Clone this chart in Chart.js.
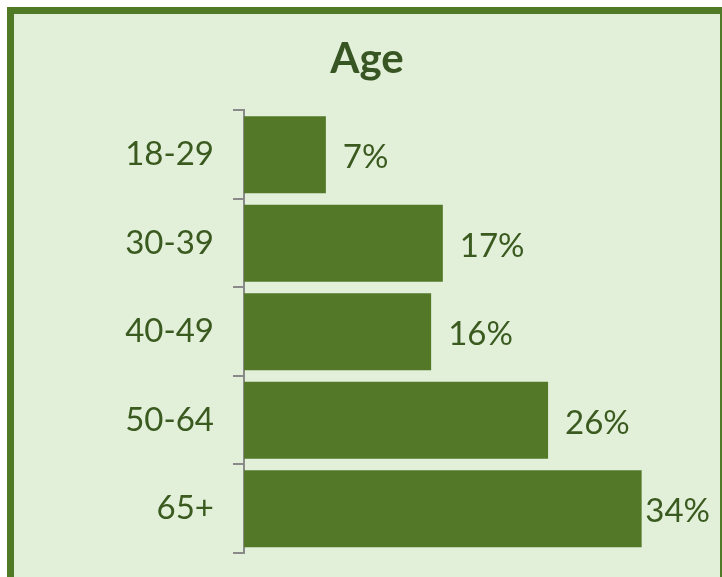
<!DOCTYPE html>
<html>
<head>
<meta charset="utf-8">
<script src="https://cdn.jsdelivr.net/npm/chart.js@4"></script>
<style>
  html, body { margin: 0; padding: 0; background: #ffffff; overflow: hidden; }
  #frame {
    position: absolute; left: 7px; top: 7px;
    width: 706px; height: 600px;
    border: 7px solid #517a27;
    background: #e2efd9;
  }
  #wrap { position: absolute; left: 0; top: 0; width: 706px; height: 563px; }
</style>
</head>
<body>
<div id="frame"><div id="wrap"><canvas id="chart"></canvas></div></div>
<script>
var ageGroups = ["18-29", "30-39", "40-49", "50-64", "65+"];
var shares = [7, 17, 16, 26, 34];

var textColor = "#3a5a1f";
var barColor = "#527828";
var axisGray = "#8a8a8a";
var fontName = "Lato";

// draws the percent next to each bar, pulled in when it would run off the plot
var valueLabels = {
  id: "valueLabels",
  afterDatasetsDraw: function(chart) {
    var ctx = chart.ctx;
    var meta = chart.getDatasetMeta(0);
    ctx.save();
    ctx.font = "33px " + fontName;
    ctx.fillStyle = textColor;
    ctx.textBaseline = "middle";
    meta.data.forEach(function(bar, i) {
      var txt = shares[i] + "%";
      var w = ctx.measureText(txt).width;
      var x = Math.min(bar.x + 17, chart.chartArea.right - w - 10);
      ctx.fillText(txt, x, bar.y + 3);
    });
    ctx.restore();
  }
};

var ctx = document.getElementById("chart").getContext("2d");
new Chart(ctx, {
  type: "bar",
  data: {
    labels: ageGroups,
    datasets: [{
      label: "Age",
      data: shares,
      backgroundColor: barColor,
      borderWidth: 0,
      barPercentage: 0.87,
      categoryPercentage: 1
    }]
  },
  options: {
    indexAxis: "y",
    responsive: true,
    maintainAspectRatio: false,
    animation: false,
    layout: { padding: { top: 0, right: 0, bottom: 24, left: 0 } },
    plugins: {
      legend: { display: false },
      tooltip: { enabled: false },
      title: {
        display: true,
        text: "Age",
        color: "#375623",
        font: { family: fontName, size: 42, weight: "bold" },
        padding: { top: 20, bottom: 26 }
      }
    },
    scales: {
      x: { display: false, min: 0, max: 40.7 },
      y: {
        afterFit: function(scale) {
          scale.width = 230;
          scale.paddingTop = 0;
          scale.paddingBottom = 0;
        },
        border: { display: true, color: axisGray, width: 2 },
        grid: {
          drawOnChartArea: false,
          drawTicks: true,
          tickLength: 11,
          color: axisGray,
          lineWidth: 2
        },
        ticks: {
          color: textColor,
          padding: 19,
          font: { family: fontName, size: 33 }
        }
      }
    }
  },
  plugins: [valueLabels]
});
</script>
</body>
</html>
